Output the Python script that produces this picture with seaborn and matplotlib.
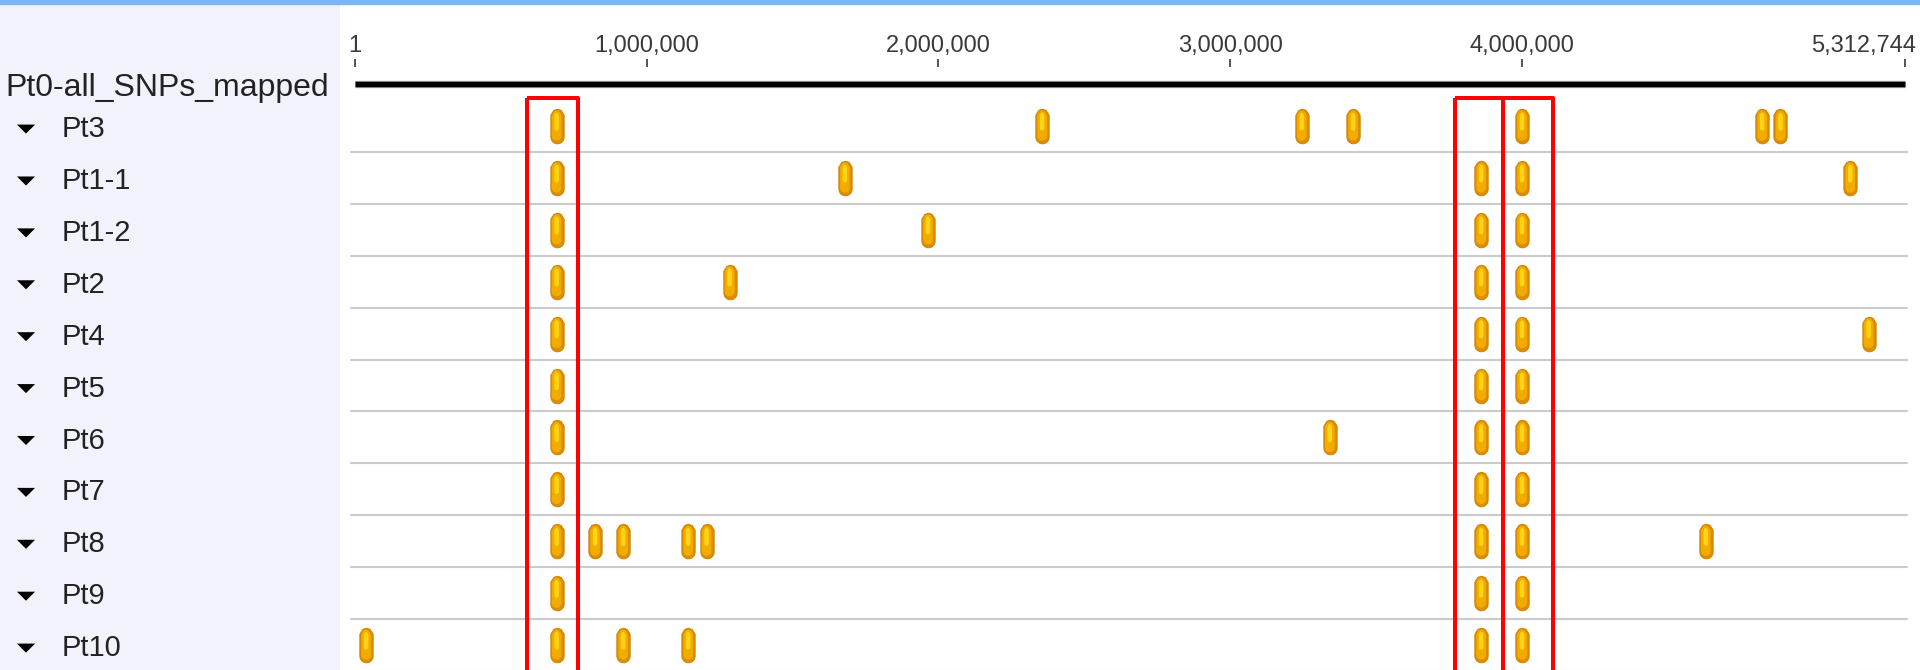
import numpy as np
import pandas as pd
import seaborn as sns
import matplotlib.pyplot as plt
from matplotlib.path import Path
from matplotlib.markers import MarkerStyle
from matplotlib.patches import Rectangle
from matplotlib.transforms import ScaledTranslation

# genome / ruler
genome_len = 5312744
tick_pos = [1, 1000000, 2000000, 3000000, 4000000, 5312744]
tick_labels = ['1', '1,000,000', '2,000,000', '3,000,000', '4,000,000', '5,312,744']
ref_track = 'Pt0-all_SNPs_mapped'

# SNP positions per patient track
patients = ['Pt3', 'Pt1-1', 'Pt1-2', 'Pt2', 'Pt4', 'Pt5', 'Pt6', 'Pt7', 'Pt8', 'Pt9', 'Pt10']
pt3 = [691000, 2355000, 3245000, 3421000, 4000000, 4823000, 4886000]
pt1_1 = [691000, 1679000, 3860000, 4000000, 5125000]
pt1_2 = [691000, 1964000, 3860000, 4000000]
pt2 = [691000, 1284000, 3860000, 4000000]
pt4 = [691000, 3860000, 4000000, 5188000]
pt5 = [691000, 3860000, 4000000]
pt6 = [691000, 3341000, 3860000, 4000000]
pt7 = [691000, 3860000, 4000000]
pt8 = [691000, 823000, 919000, 1142000, 1205000, 3860000, 4000000, 4630000]
pt9 = [691000, 3860000, 4000000]
pt10 = [38000, 691000, 919000, 1142000, 3860000, 4000000]

# highlighted shared-SNP windows (start, end)
highlight_start = [589500, 3770000, 3935000]
highlight_end = [764300, 3935000, 4106000]

snp_lists = [pt3, pt1_1, pt1_2, pt2, pt4, pt5, pt6, pt7, pt8, pt9, pt10]
rows = []
for i, (name, snps) in enumerate(zip(patients, snp_lists)):
    for p in snps:
        rows.append({'patient': name, 'row': i, 'pos': p})
df = pd.DataFrame(rows)


def capsule(half_w, y_bot, y_top, tip):
    cy = y_bot + half_w
    theta = np.linspace(np.pi, 2 * np.pi, 14)
    verts = [(half_w * np.cos(t), cy + half_w * np.sin(t)) for t in theta]
    verts += [(half_w, y_top - tip), (half_w * 0.55, y_top - tip * 0.2), (0, y_top),
              (-half_w * 0.55, y_top - tip * 0.2), (-half_w, y_top - tip)]
    verts.append(verts[0])
    codes = [Path.MOVETO] + [Path.LINETO] * (len(verts) - 2) + [Path.CLOSEPOLY]
    m = max(abs(v) for xy in verts for v in xy)
    return MarkerStyle(Path(verts, codes)), m


sns.set_style('white')
plt.rcParams['font.family'] = ['Liberation Sans', 'DejaVu Sans']

fig = plt.figure(figsize=(19.2, 6.7), dpi=100)
H = 670.0

# left label panel (x in pixels, y in row units)
ax_l = fig.add_axes([0, 0, 340 / 1920, 1])
ax_l.set_xlim(0, 340)
ax_l.set_ylim((670 - 126) / 51.9, (0 - 126) / 51.9)
ax_l.axis('off')
ax_l.add_patch(Rectangle((0, 10.6), 340, -14, color='#F2F2FC', zorder=0))

# main track axes
ax = fig.add_axes([340 / 1920, 0, 1580 / 1920, 603 / H])
ax.set_facecolor('white')

k = 25.0 / 2.6
layers = [
    (capsule(0.5, -1.3, 1.3, 0.45), '#DE8C00', '#C98300', 0.6),
    (capsule(0.36, -1.1, 1.16, 0.36), '#F2AC00', 'none', 0),
    (capsule(0.17, -0.35, 1.0, 0.22), '#FFD416', 'none', 0),
]
for (mk, m), fc, ec, lw in layers:
    sns.scatterplot(data=df, x='pos', y='row', marker=mk, s=(2 * m * k) ** 2,
                    color=fc, edgecolor=ec, linewidth=lw, legend=False, ax=ax, zorder=4)

# reference genome line
ref_y = (84 - 126) / 51.9
ax.hlines(ref_y, 1, genome_len, color='#9a9a9a', lw=5.2, zorder=2)
ax.hlines(ref_y, 1, genome_len, color='black', lw=3.8, zorder=3)

# row separators
for i in range(len(patients)):
    ax.axhline(i + 0.5, xmin=0.007, xmax=0.992, color='#CBCBCB', lw=1.5, zorder=1)

# red highlight boxes
box_top = (98 - 126) / 51.9
for x0, x1 in zip(highlight_start, highlight_end):
    ax.add_patch(Rectangle((x0, box_top), x1 - x0, 12 - box_top, fill=False,
                           edgecolor='#FF0000', lw=2.9, joinstyle='round', zorder=6))

ax.set_xlim(-51400, 5364200)
ax.set_ylim((670 - 126) / 51.9, (67 - 126) / 51.9)
ax.xaxis.tick_top()
ax.set_xticks(tick_pos)
ax.set_xticklabels(tick_labels)
ax.tick_params(axis='x', direction='out', length=6, width=1.4, color='#555555',
               pad=1, labelsize=17, labelcolor='#3a3a3a')
ax.tick_params(axis='y', left=False, labelleft=False)
ax.set_xlabel('')
ax.set_ylabel('')
for s in ax.spines.values():
    s.set_visible(False)
last = ax.get_xticklabels()[-1]
last.set_horizontalalignment('right')
last.set_transform(last.get_transform() + ScaledTranslation(0.11, 0, fig.dpi_scale_trans))

# labels in the left panel
ax_l.text(5, (88 - 126) / 51.9, ref_track, fontsize=23, color='#222222',
          ha='left', va='center')
tri = MarkerStyle(Path([(-1, 0.5), (1, 0.5), (0, -0.5), (-1, 0.5)],
                       [Path.MOVETO, Path.LINETO, Path.LINETO, Path.CLOSEPOLY]))
tri_df = pd.DataFrame({'x': [26] * len(patients), 'row': np.arange(len(patients)) + 0.06})
sns.scatterplot(data=tri_df, x='x', y='row', marker=tri, s=170, color='black',
                edgecolor='none', legend=False, ax=ax_l)
for i, name in enumerate(patients):
    ax_l.text(62, i + 0.06, name, fontsize=21, color='#222222', ha='left', va='center')

# thin blue bar at the top
fig.add_artist(Rectangle((0, 1 - 4 / H), 1, 4 / H, transform=fig.transFigure,
                         color='#7DB5F7', zorder=10))

fig.savefig('out.png', dpi=100)
